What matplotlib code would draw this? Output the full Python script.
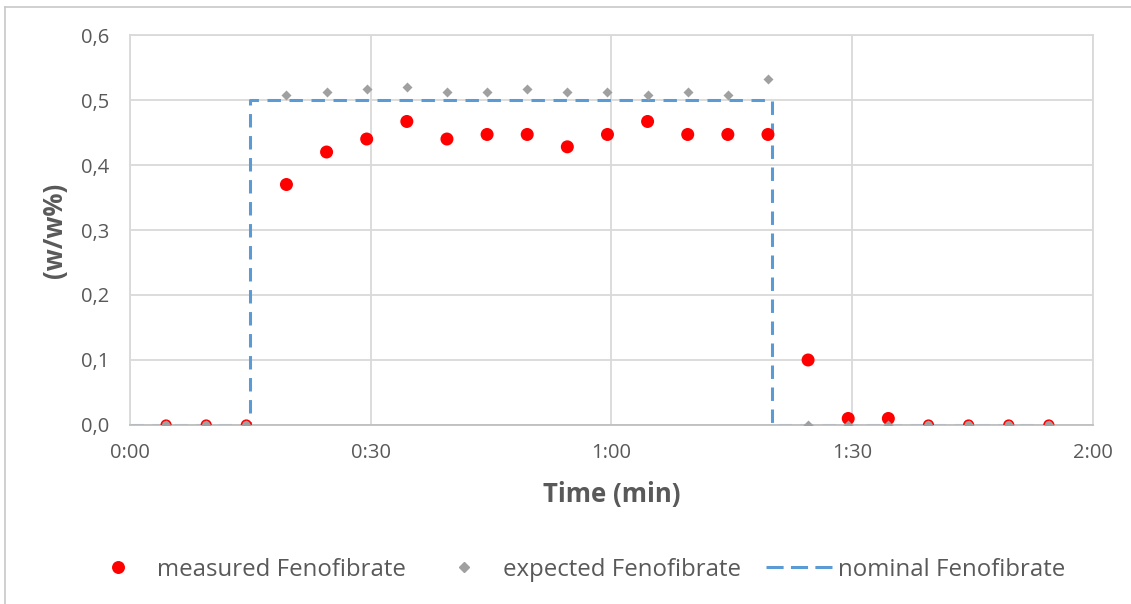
import matplotlib
matplotlib.use("Agg")
import matplotlib.pyplot as plt
from matplotlib.ticker import FuncFormatter, MultipleLocator
from matplotlib.lines import Line2D

plt.rcParams['font.family'] = ['Open Sans', 'DejaVu Sans']

# sampling times in seconds
times = [4.5, 9.5, 14.5, 19.5, 24.5, 29.5, 34.5, 39.5, 44.5, 49.5, 54.5, 59.5,
         64.5, 69.5, 74.5, 79.5, 84.5, 89.5, 94.5, 99.5, 104.5, 109.5, 114.5]
measured = [0, 0, 0, 0.37, 0.42, 0.44, 0.467, 0.44, 0.447, 0.447, 0.428, 0.447,
            0.467, 0.447, 0.447, 0.447, 0.10, 0.01, 0.01, 0, 0, 0, 0]
expected = [0, 0, 0, 0.508, 0.512, 0.517, 0.52, 0.512, 0.512, 0.517, 0.512, 0.512,
            0.508, 0.512, 0.508, 0.532, 0, 0, 0, 0, 0, 0, 0]
nominal_t = [0, 15, 15, 80, 80, 114.5]
nominal_v = [0, 0, 0.5, 0.5, 0, 0]
labels = ['measured Fenofibrate', 'expected Fenofibrate', 'nominal Fenofibrate']

text_col = '#595959'
grid_col = '#d9d9d9'
red = '#ff0000'
grey = '#a0a0a0'
blue = '#5b9bd5'
dash = (4.4, 2.8)

fig = plt.figure(figsize=(11.31, 6.04), dpi=100)
ax = fig.add_axes([0.1149, 0.2964, 0.8515, 0.6456])

ax.plot(nominal_t, nominal_v, color=blue, lw=2.2, dashes=dash, zorder=2)

face = [grey if v == 0 else red for v in measured]
sizes = [48 if v == 0 else 68 for v in measured]
ax.scatter(times, measured, s=sizes, c=face, edgecolors=red, linewidths=1.1, zorder=3)
ax.scatter(times, expected, s=26, marker='D', c=grey, linewidths=0, zorder=4)

ax.set_xlim(0, 120)
ax.set_ylim(0, 0.6)
ax.xaxis.set_major_locator(MultipleLocator(30))
ax.yaxis.set_major_locator(MultipleLocator(0.1))
ax.xaxis.set_major_formatter(FuncFormatter(lambda s, p: f"{int(s)//60}:{int(s)%60:02d}"))
ax.yaxis.set_major_formatter(FuncFormatter(lambda v, p: f"{v:.1f}".replace('.', ',')))
ax.grid(True, color=grid_col, lw=1.3)
ax.set_axisbelow(True)
for sp in ax.spines.values():
    sp.set_color(grid_col)
    sp.set_linewidth(1.3)
ax.spines['bottom'].set_color('#bfbfbf')
ax.tick_params(length=0, labelsize=14.5, labelcolor=text_col)
ax.tick_params(axis='y', pad=15)
ax.tick_params(axis='x', pad=13)

ax.set_xlabel('Time (min)', fontsize=18.5, fontweight='bold', color=text_col, labelpad=13)
ax.set_ylabel('(w/w%)', fontsize=18.5, fontweight='bold', color=text_col, labelpad=9)

# legend row, laid out along the bottom of the figure
ly = 1 - 567 / 604
W = 1131
fig.add_artist(Line2D([118 / W], [ly], ls='none', marker='o', ms=8.3, mfc=red, mec=red))
fig.add_artist(Line2D([464 / W], [ly], ls='none', marker='D', ms=5, mfc=grey, mec=grey))
fig.add_artist(Line2D([766 / W, 833 / W], [ly, ly], color=blue, lw=2.2, dashes=(5.6, 2.4)))
for x, lab in zip([157, 503, 838], labels):
    fig.text(x / W, ly, lab, fontsize=17.3, color=text_col, ha='left', va='center_baseline')

# outer chart frame (top and left edges)
fig.add_artist(Line2D([0.0044, 1.0], [0.988, 0.988], color='#c8c8c8', lw=1.2))
fig.add_artist(Line2D([0.0044, 0.0044], [0.0, 0.988], color='#c8c8c8', lw=1.2))

fig.savefig('out.png', dpi=100, facecolor='white')
